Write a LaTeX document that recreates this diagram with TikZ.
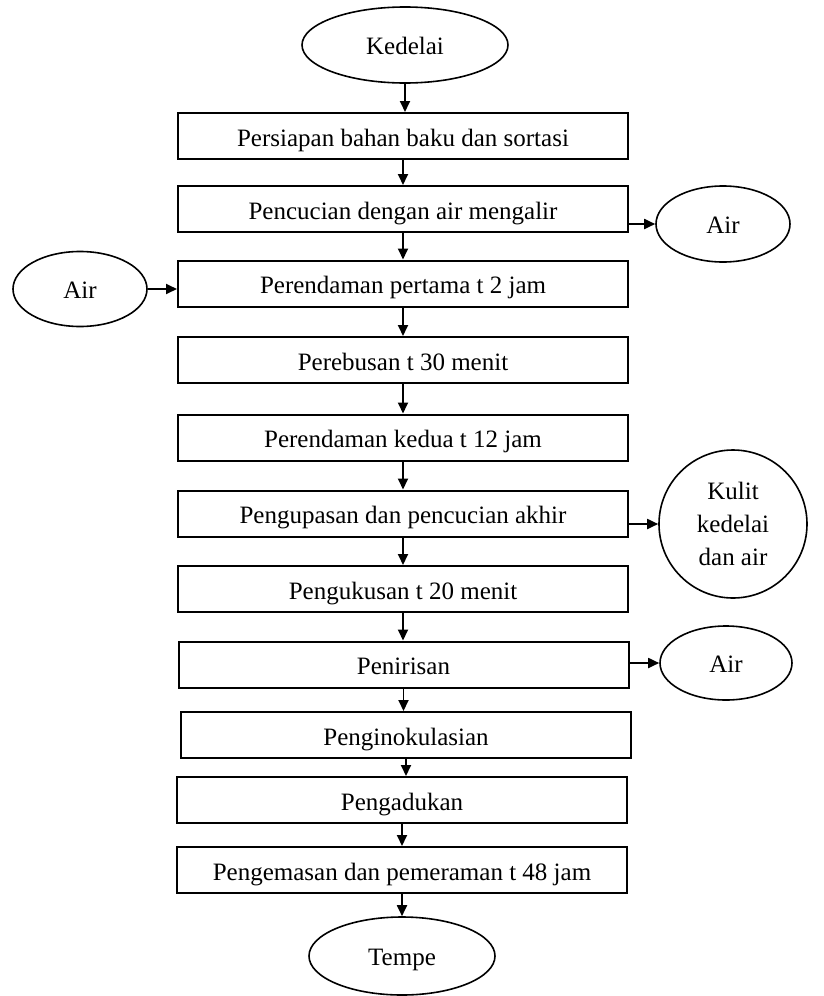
\documentclass[tikz,border=0pt]{standalone}
\usepackage{fontspec}
\setmainfont{Liberation Serif}
\usetikzlibrary{arrows.meta,shapes.geometric}
\begin{document}
\begin{tikzpicture}[x=1pt,y=-1pt,
  every node/.style={font=\fontsize{25}{33}\selectfont, inner sep=0pt},
  stepbox/.style={draw, line width=2pt, minimum width=450pt, minimum height=46pt, text height=20pt, text depth=0pt},
  term/.style={draw, ellipse, line width=1.6pt, text height=18pt, text depth=0pt},
  flow/.style={line width=1.8pt, -{Triangle[length=11pt,width=10pt]}}]
\useasboundingbox (0,0) rectangle (824,996);

% main process chain
\node[term, minimum width=206pt, minimum height=76pt] (k) at (405,45) {Kedelai};
\node[stepbox] (b1) at (403,136) {Persiapan bahan baku dan sortasi};
\node[stepbox] (b2) at (403,209) {Pencucian dengan air mengalir};
\node[stepbox] (b3) at (403,283.5) {Perendaman pertama t 2 jam};
\node[stepbox] (b4) at (403,360) {Perebusan t 30 menit};
\node[stepbox] (b5) at (403,437.5) {Perendaman kedua t 12 jam};
\node[stepbox] (b6) at (403,513.5) {Pengupasan dan pencucian akhir};
\node[stepbox] (b7) at (403,589) {Pengukusan t 20 menit};
\node[stepbox] (b8) at (403.5,664.5) {Penirisan};
\node[stepbox] (b9) at (406,735) {Penginokulasian};
\node[stepbox] (b10) at (402,800) {Pengadukan};
\node[stepbox] (b11) at (402,870) {Pengemasan dan pemeraman t 48 jam};
\node[term, minimum width=186pt, minimum height=78pt] (t) at (402,956) {Tempe};

% inputs and outputs
\node[term, minimum width=134pt, minimum height=76pt] (a1) at (723,224) {Air};
\node[term, minimum width=134pt, minimum height=75pt] (a0) at (80,289) {Air};
\node[draw, circle, line width=1.6pt, minimum size=148pt, align=center] (kl) at (733,524) {Kulit\\kedelai\\dan air};
\node[term, minimum width=132pt, minimum height=74pt] (a2) at (726,663) {Air};

% vertical flow
\draw[flow] (k.south) -- (k.south |- b1.north);
\draw[flow] (b1.south) -- (b2.north);
\draw[flow] (b2.south) -- (b3.north);
\draw[flow] (b3.south) -- (b4.north);
\draw[flow] (b4.south) -- (b5.north);
\draw[flow] (b5.south) -- (b6.north);
\draw[flow] (b6.south) -- (b7.north);
\draw[flow] (b7.south) -- (b7.south |- b8.north);
\draw[flow] (b8.south) -- (b8.south |- b9.north);
\draw[flow] (b9.south) -- (b9.south |- b10.north);
\draw[flow] (b10.south) -- (b11.north);
\draw[flow] (b11.south) -- (t.north);

% side flows
\draw[flow] (a0.east) -- (a0.east -| b3.west);
\draw[flow] (b2.east |- a1.west) -- (a1.west);
\draw[flow] (b6.east |- kl.west) -- (kl.west);
\draw[flow] (b8.east |- a2.west) -- (a2.west);
\end{tikzpicture}
\end{document}
